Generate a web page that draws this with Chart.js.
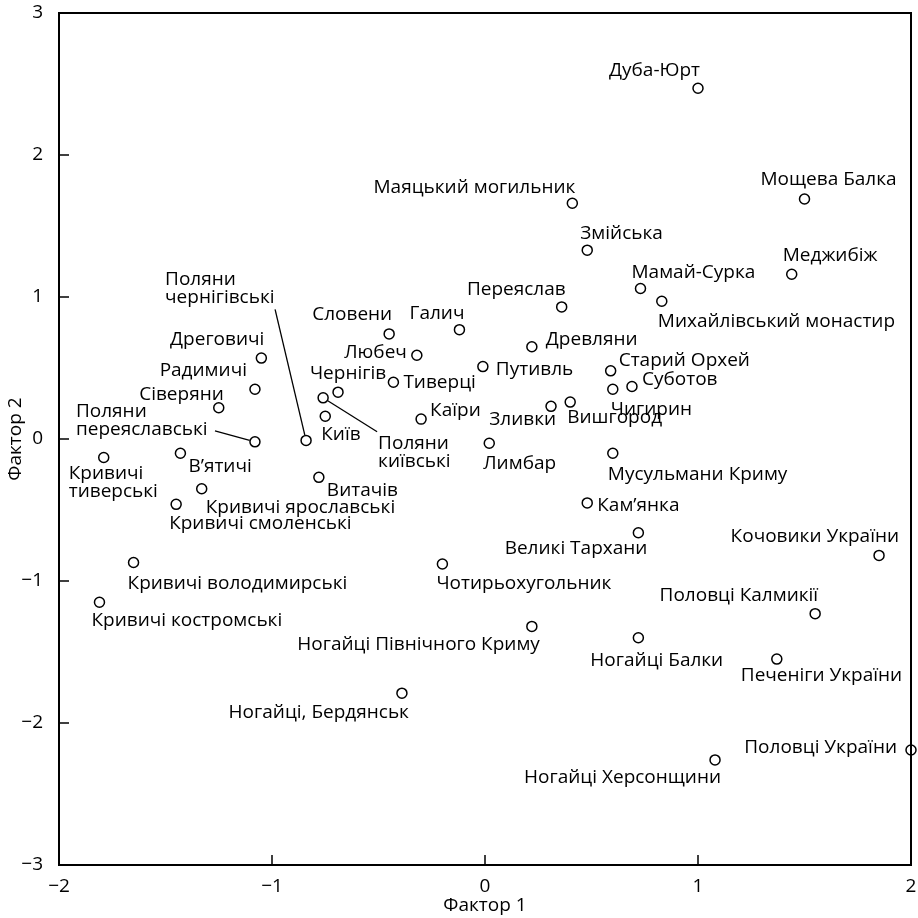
<!DOCTYPE html>
<html>
<head>
<meta charset="utf-8">
<script src="https://cdn.jsdelivr.net/npm/chart.js@4"></script>
<style>
  body { margin: 0; background: #fff; }
</style>
</head>
<body>
<canvas id="chart" width="918" height="918"></canvas>
<script>
// Names of the sites / groups
const names = [
    "Дуба-Юрт", "Маяцький могильник", "Мощева Балка", "Змійська", "Меджибіж",
    "Мамай-Сурка", "Михайлівський монастир", "Переяслав", "Галич", "Словени",
    "Любеч", "Древляни", "Путивль", "Тиверці", "Чернігів",
    "Поляни\nкиївські", "Київ", "Поляни\nчернігівські", "Каїри", "Зливки",
    "Вишгород", "Лимбар", "Витачів", "Старий Орхей", "Суботов",
    "Чигирин", "Мусульмани Криму", "Кам’янка", "Великі Тархани", "Кочовики України",
    "Чотирьохугольник", "Дреговичі", "Радимичі", "Сіверяни", "Поляни\nпереяславські",
    "Кривичі\nтиверські", "В’ятичі", "Кривичі ярославські", "Кривичі смоленські", "Кривичі володимирські",
    "Кривичі костромські", "Ногайці Північного Криму", "Ногайці, Бердянськ", "Ногайці Балки", "Половці Калмикії",
    "Печеніги України", "Половці України", "Ногайці Херсонщини"
];

// Factor 1 scores
const factor1 = [
    1.00, 0.41, 1.50, 0.48, 1.44,
    0.73, 0.83, 0.36, -0.12, -0.45,
    -0.32, 0.22, -0.01, -0.43, -0.69,
    -0.76, -0.75, -0.84, -0.30, 0.31,
    0.40, 0.02, -0.78, 0.59, 0.69,
    0.60, 0.60, 0.48, 0.72, 1.85,
    -0.20, -1.05, -1.08, -1.25, -1.08,
    -1.79, -1.43, -1.33, -1.45, -1.65,
    -1.81, 0.22, -0.39, 0.72, 1.55,
    1.37, 2.00, 1.08
];

// Factor 2 scores
const factor2 = [
    2.47, 1.66, 1.69, 1.33, 1.16,
    1.06, 0.97, 0.93, 0.77, 0.74,
    0.59, 0.65, 0.51, 0.40, 0.33,
    0.29, 0.16, -0.01, 0.14, 0.23,
    0.26, -0.03, -0.27, 0.48, 0.37,
    0.35, -0.10, -0.45, -0.66, -0.82,
    -0.88, 0.57, 0.35, 0.22, -0.02,
    -0.13, -0.10, -0.35, -0.46, -0.87,
    -1.15, -1.32, -1.79, -1.40, -1.23,
    -1.55, -2.19, -2.26
];

const xTicks = [-2, -1, 0, 1, 2];
const yTicks = [-3, -2, -1, 0, 1, 2, 3];

// label placement relative to the point (px): dx, dy, align, optional leader line start
const labelPos = [
    [2, -18, "right"], [3, -16, "right"], [-44, -19, "left"], [-7, -17, "left"], [-9, -19, "left"],
    [-9, -16, "left"], [-4, 20, "left"], [4, -17, "right"], [5, -16, "right"], [3, -19, "right"],
    [-10, -3, "right"], [14, -7, "left"], [13, 3, "left"], [10, 0, "left"], [10, -19, "center"],
    [55, 46, "left", [54, 34]], [-4, 18, "left"], [-141, -161, "left", [-31, -131]], [9, -9, "left"], [5, 13, "right"],
    [-3, 16, "left"], [-6, 20, "left"], [8, 13, "left"], [8, -10, "left"], [10, -7, "left"],
    [-2, 20, "left"], [-5, 21, "left"], [10, 3, "left"], [9, 16, "right"], [20, -19, "right"],
    [-6, 20, "left"], [3, -18, "right"], [-8, -19, "right"], [5, -13, "right"], [-179, -30, "left", [-40, -11]],
    [-35, 16, "left"], [8, 13, "left"], [4, 19, "left"], [-7, 19, "left"], [-6, 21, "left"],
    [-8, 18, "left"], [8, 18, "right"], [7, 19, "right"], [-48, 23, "left"], [3, -18, "right"],
    [-36, 16, "left"], [-14, -2, "right"], [6, 18, "right"]
];

const FONT = '"Open Sans", "Noto Sans", sans-serif';
const points = factor1.map((x, i) => ({ x: x, y: factor2[i] }));

// Point labels and leader lines
const labelPlugin = {
    id: "labels",
    afterDatasetsDraw(chart) {
        const ctx = chart.ctx;
        const meta = chart.getDatasetMeta(0);
        ctx.save();
        ctx.font = "19px " + FONT;
        ctx.fillStyle = "#000";
        ctx.strokeStyle = "#000";
        ctx.textBaseline = "middle";
        meta.data.forEach((el, i) => {
            const [dx, dy, align, lead] = labelPos[i];
            const lines = names[i].split("\n");
            ctx.textAlign = align;
            lines.forEach((line, k) => {
                ctx.fillText(line, el.x + dx, el.y + dy + k * 18);
            });
            if (lead) {
                const sx = el.x + lead[0], sy = el.y + lead[1];
                const ang = Math.atan2(sy - el.y, sx - el.x);
                ctx.lineWidth = 1.3;
                ctx.beginPath();
                ctx.moveTo(sx, sy);
                ctx.lineTo(el.x + Math.cos(ang) * 5.5, el.y + Math.sin(ang) * 5.5);
                ctx.stroke();
            }
        });
        ctx.restore();
    }
};

// Frame and inward tick marks
const framePlugin = {
    id: "frame",
    afterDraw(chart) {
        const { ctx, chartArea: a, scales } = chart;
        ctx.save();
        ctx.strokeStyle = "#000";
        ctx.lineWidth = 2;
        ctx.strokeRect(a.left, a.top, a.right - a.left, a.bottom - a.top);
        ctx.lineWidth = 1.5;
        ctx.beginPath();
        xTicks.forEach(v => {
            const px = scales.x.getPixelForValue(v);
            ctx.moveTo(px, a.bottom);
            ctx.lineTo(px, a.bottom - 10);
        });
        yTicks.forEach(v => {
            const py = scales.y.getPixelForValue(v);
            ctx.moveTo(a.left, py);
            ctx.lineTo(a.left + 10, py);
        });
        ctx.stroke();
        ctx.restore();
    }
};

const minus = v => String(v).replace("-", "\u2212");

new Chart(document.getElementById("chart"), {
    type: "scatter",
    data: {
        datasets: [{
            data: points,
            pointRadius: 5,
            pointBorderWidth: 1.5,
            pointBorderColor: "#000",
            pointBackgroundColor: "rgba(0,0,0,0)",
            clip: false
        }]
    },
    options: {
        responsive: false,
        animation: false,
        devicePixelRatio: 1,
        layout: { padding: { top: 13, right: 7, left: 0, bottom: 0 } },
        plugins: { legend: { display: false }, tooltip: { enabled: false } },
        scales: {
            x: {
                type: "linear",
                min: -2, max: 2,
                afterFit: s => { s.height = 53; s.paddingLeft = 0; s.paddingRight = 0; },
                afterBuildTicks: s => { s.ticks = xTicks.map(v => ({ value: v })); },
                grid: { display: false },
                border: { display: false },
                ticks: { color: "#000", font: { size: 19, family: FONT }, padding: 2, callback: minus },
                title: { display: true, text: "Фактор 1", color: "#000", font: { size: 19, family: FONT }, padding: { top: 0, bottom: 1 } }
            },
            y: {
                type: "linear",
                min: -3, max: 3,
                afterFit: s => { s.width = 59; s.paddingTop = 0; s.paddingBottom = 0; },
                afterBuildTicks: s => { s.ticks = yTicks.map(v => ({ value: v })); },
                grid: { display: false },
                border: { display: false },
                ticks: { color: "#000", font: { size: 19, family: FONT }, padding: 8, callback: minus },
                title: { display: true, text: "Фактор 2", color: "#000", font: { size: 19, family: FONT }, padding: { top: 4, bottom: 0 } }
            }
        }
    },
    plugins: [labelPlugin, framePlugin]
});
</script>
</body>
</html>
